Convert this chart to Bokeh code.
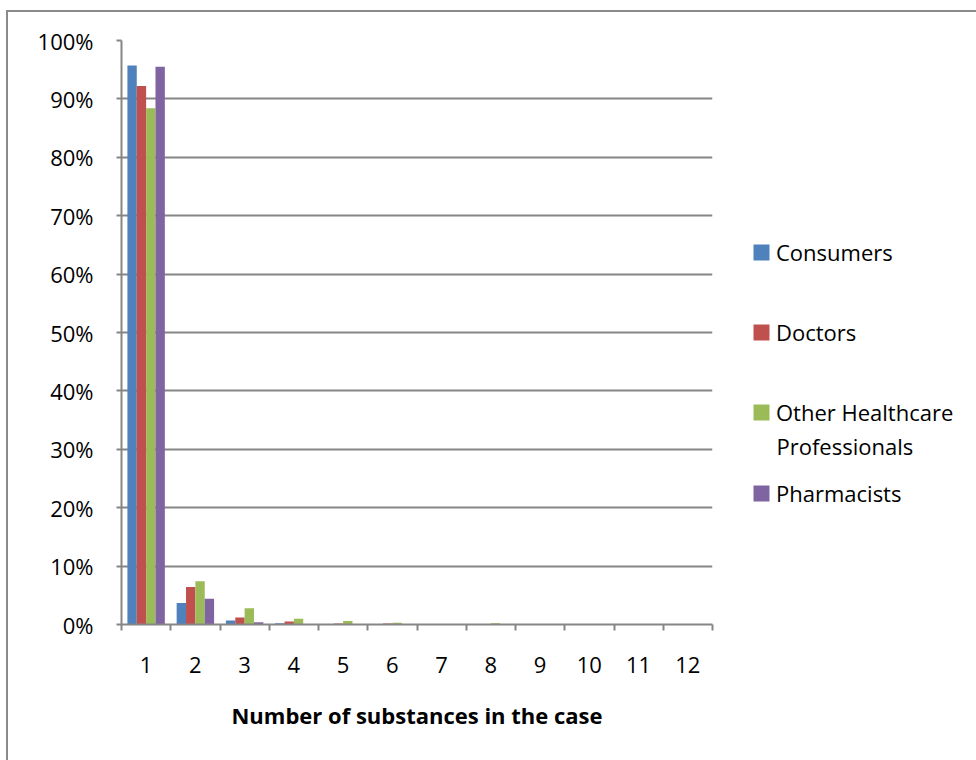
from bokeh.plotting import figure
from bokeh.layouts import row
from bokeh.models import (Range1d, FixedTicker, Legend, LegendItem, Label,
                          CustomJSTickFormatter, ColumnDataSource)
from bokeh.embed import file_html
from bokeh.resources import INLINE

# Share of cases (%) by number of substances in the case, per reporter type
substances = list(range(1, 13))
tick_labels = [str(n) for n in substances]
consumers = [95.7, 3.7, 0.7, 0.2, 0.05, 0.05, 0.03, 0.05, 0.02, 0.01, 0.01, 0.05]
doctors = [92.2, 6.4, 1.2, 0.5, 0.15, 0.15, 0.05, 0.1, 0.05, 0.05, 0.02, 0.02]
other_hcp = [88.4, 7.4, 2.8, 1.0, 0.6, 0.3, 0.05, 0.2, 0.03, 0.02, 0.1, 0.02]
pharmacists = [95.5, 4.4, 0.4, 0.05, 0.02, 0.02, 0.01, 0.01, 0.01, 0.01, 0.01, 0.01]

series = [
    ("Consumers", consumers, "#4F81BD"),
    ("Doctors", doctors, "#C0504D"),
    ("Other Healthcare", other_hcp, "#9BBB59"),
    ("Pharmacists", pharmacists, "#8064A2"),
]
other_second_line = "Professionals"

FONT = "Open Sans"
GRID = "#868686"

p = figure(width=714, height=748, output_backend="svg", toolbar_location=None,
           x_range=Range1d(0.5, 12.5), y_range=Range1d(0, 1),
           min_border_left=113, min_border_top=28, min_border_right=10,
           min_border_bottom=136)
p.outline_line_color = None
p.background_fill_color = "white"
p.border_fill_color = "white"

bar_w = 0.19
offsets = [-0.285, -0.095, 0.095, 0.285]
for (name, vals, color), off in zip(series, offsets):
    src = ColumnDataSource(dict(x=[s + off for s in substances],
                                top=[v / 100 for v in vals]))
    p.vbar(x="x", top="top", bottom=0, width=bar_w, source=src,
           fill_color=color, line_color=None)

# x axis: labels at category centres, tick marks at category boundaries
xa = p.xaxis[0]
xa.ticker = FixedTicker(ticks=substances,
                        minor_ticks=[s - 0.5 for s in substances] + [12.5])
xa.major_label_overrides = {s: lbl for s, lbl in zip(substances, tick_labels)}
xa.major_tick_line_color = None
xa.major_tick_out = 0
xa.major_tick_in = 0
xa.minor_tick_line_color = GRID
xa.minor_tick_line_width = 2
xa.minor_tick_out = 6
xa.minor_tick_in = 0
xa.axis_line_color = GRID
xa.axis_line_width = 2
xa.major_label_text_font = FONT
xa.major_label_text_font_size = "22px"
xa.major_label_text_color = "black"
xa.major_label_standoff = 26
xa.axis_label = "Number of substances in the case"
xa.axis_label_text_font = FONT
xa.axis_label_text_font_style = "bold"
xa.axis_label_text_font_size = "22px"
xa.axis_label_text_color = "black"
xa.axis_label_standoff = 24

ya = p.yaxis[0]
ya.ticker = FixedTicker(ticks=[i / 10 for i in range(11)])
ya.formatter = CustomJSTickFormatter(code="return Math.round(tick * 100) + '%';")
ya.major_tick_line_color = GRID
ya.major_tick_line_width = 2
ya.major_tick_out = 5
ya.major_tick_in = 0
ya.minor_tick_line_color = None
ya.axis_line_color = GRID
ya.axis_line_width = 2
ya.major_label_text_font = FONT
ya.major_label_text_font_size = "22px"
ya.major_label_text_color = "black"
ya.major_label_standoff = 23

p.xgrid.grid_line_color = None
p.ygrid.grid_line_color = GRID
p.ygrid.grid_line_width = 2

# legend panel to the right of the chart, one legend per entry; the swatch
# renderers hold no drawable data, they only carry the series colour
lg_fig = figure(width=254, height=748, output_backend="svg", toolbar_location=None,
                x_range=Range1d(0, 1), y_range=Range1d(0, 1),
                min_border=0, outline_line_color=None)
lg_fig.axis.visible = False
lg_fig.grid.visible = False
lg_fig.border_fill_color = "white"

legend_y = [357, 277, 197, 116]
for (name, vals, color), ly in zip(series, legend_y):
    r = lg_fig.vbar(x=[float("nan")], top=[float("nan")], bottom=0, width=0.1,
                    fill_color=color, line_color=None)
    lg = Legend(items=[LegendItem(label=name, renderers=[r])],
                location=(29, ly), padding=0, margin=0, spacing=0,
                border_line_color=None, background_fill_alpha=0,
                glyph_width=20, glyph_height=20, label_standoff=5,
                label_height=24,
                label_text_font=FONT, label_text_font_size="22px",
                label_text_color="black")
    lg_fig.add_layout(lg, "center")

# second line of the "Other Healthcare Professionals" entry
lg_fig.add_layout(Label(x=0.2126, y=0.3065, text=other_second_line,
                        text_font=FONT, text_font_size="22px",
                        text_color="black", text_baseline="middle",
                        text_align="left"))

layout = row(p, lg_fig)
layout.margin = (10, 0, 0, 6)
layout.styles = {"border-left": "2px solid #8a8a8a", "border-top": "2px solid #8a8a8a"}

open("out.html", "w").write(file_html(layout, INLINE))
